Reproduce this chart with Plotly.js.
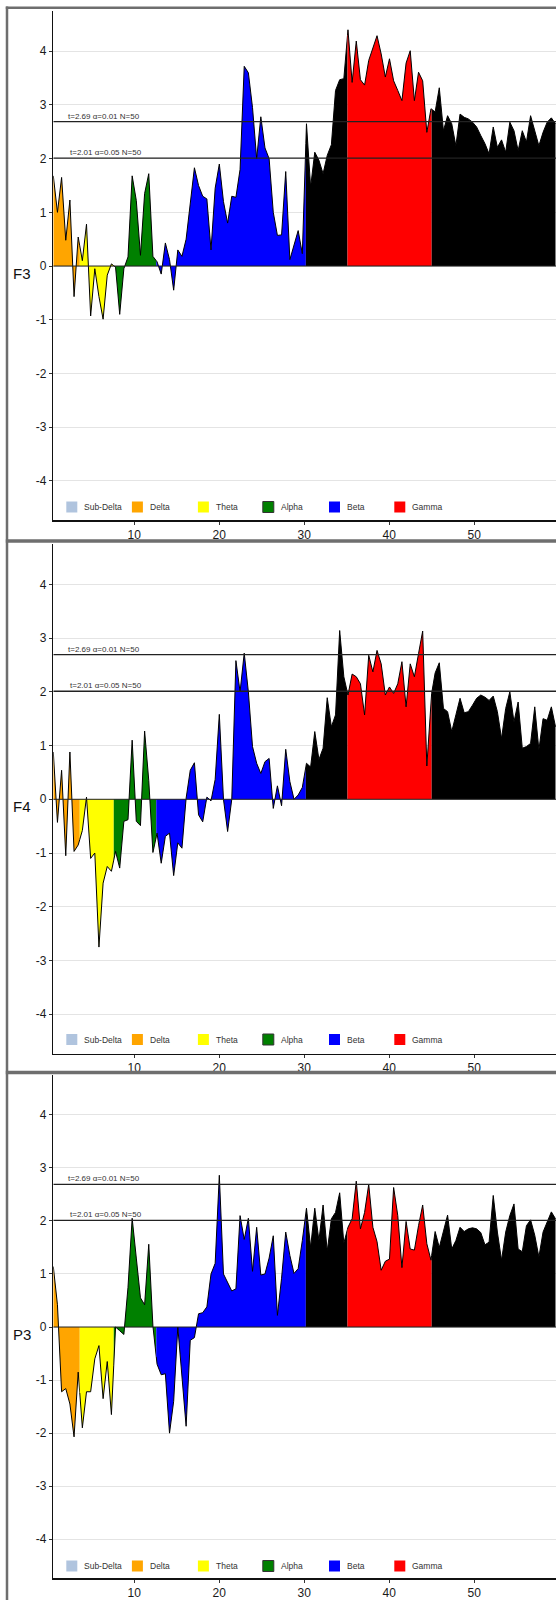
<!DOCTYPE html>
<html><head><meta charset="utf-8">
<script src="https://cdn.plot.ly/plotly-3.0.1.min.js"></script>
<style>html,body{margin:0;padding:0;background:#fff}#chart{width:556px;height:1600px}</style>
</head><body><div id="chart"></div>
<script>
// ---------- data ----------
const FREQ_STEP = 0.48828125; // Hz per spectral bin
const channels = ['F3', 'F4', 'P3'];
const F3 = [1.68,1.0,1.65,0.48,1.23,-0.57,0.54,0.1,0.78,-0.93,
  -0.05,-0.57,-0.99,-0.17,0.04,-0.02,-0.9,-0.05,0.17,1.68,
  1.22,0.2,1.35,1.72,0.18,0.08,-0.15,0.43,0.12,-0.45,
  0.3,0.18,0.5,1.2,1.83,1.5,1.3,1.25,0.3,1.45,
  1.9,1.2,0.8,1.3,1.28,1.8,3.72,3.6,2.95,2.0,
  2.78,2.2,2.0,1.0,0.57,0.58,1.76,0.12,0.4,0.66,
  0.23,2.65,1.47,2.12,1.97,1.72,2.06,2.26,3.27,3.47,
  3.49,4.4,3.42,4.19,3.47,3.37,3.83,4.07,4.29,3.95,
  3.52,3.86,3.45,3.27,3.08,3.78,4.01,3.08,3.61,3.45,
  2.49,2.93,2.87,3.32,2.52,2.8,2.65,2.24,2.83,2.77,
  2.74,2.68,2.59,2.43,2.28,2.09,2.59,2.21,2.35,2.12,
  2.68,2.52,2.15,2.52,2.31,2.8,2.52,2.24,2.49,2.68,
  2.76,2.65];
const F4 = [0.88,-0.43,0.54,-1.05,0.88,-0.97,-0.85,-0.58,0.04,-1.1,
  -1.0,-2.75,-1.56,-1.25,-1.34,-0.97,-1.28,-0.41,-0.38,1.1,
  -0.41,-0.49,1.27,0.35,-0.99,-0.63,-1.19,-0.69,-0.63,-1.42,
  -0.81,-0.91,0.02,0.54,0.68,-0.29,-0.42,0.04,-0.03,0.37,
  1.58,0.0,-0.6,0.0,2.58,2.0,2.72,2.0,0.98,0.67,
  0.48,0.7,0.76,-0.17,0.25,-0.12,0.93,0.33,0.0,0.08,
  0.22,0.67,0.6,1.26,0.74,0.95,1.89,1.35,1.57,3.14,
  2.28,1.94,2.33,2.28,2.15,1.57,2.68,2.37,2.77,2.52,
  1.94,2.09,1.97,2.15,2.56,1.72,2.52,2.28,2.71,3.13,
  0.62,1.9,2.35,2.54,1.69,1.63,1.26,1.57,1.88,1.61,
  1.63,1.75,1.88,1.94,1.9,1.84,1.92,1.63,1.13,1.69,
  2.0,1.44,1.81,0.95,0.98,1.04,1.72,0.92,1.5,1.47,
  1.72,1.35];
const P3 = [1.14,0.42,-1.22,-1.16,-1.45,-2.07,-0.85,-1.9,-1.22,-1.22,
  -0.6,-0.35,-1.35,-0.65,-1.65,0.0,-0.07,-0.14,0.75,2.05,
  1.3,0.55,0.42,1.56,0.02,-0.7,-0.9,-0.88,-2.0,-1.4,
  0.0,-0.9,-1.87,-0.25,-0.2,0.25,0.27,0.38,1.0,1.2,
  2.86,1.0,0.85,0.68,0.72,2.1,1.65,2.05,1.05,1.88,
  0.98,1.0,1.3,1.72,0.22,0.92,1.79,1.35,1.01,1.1,
  1.63,2.24,1.5,2.24,1.63,2.3,1.43,2.04,2.16,2.53,
  1.58,1.88,2.04,2.75,1.85,2.16,2.69,1.88,1.61,1.07,
  1.24,1.28,2.63,2.1,1.12,1.99,1.47,1.45,1.91,2.3,
  1.57,1.26,1.8,1.5,1.79,2.11,1.47,1.63,1.88,1.8,
  1.85,1.87,1.85,1.78,1.55,1.6,2.48,1.79,1.26,1.79,
  2.1,2.32,1.47,1.42,1.91,2.02,1.73,1.32,1.79,2.0,
  2.17,2.04];
const seriesByChannel = [F3, F4, P3];

const bandNames  = ['Sub-Delta', 'Delta', 'Theta', 'Alpha', 'Beta', 'Gamma'];
const bandColors = ['#b0c4de', '#ffa500', '#ffff00', '#008000', '#0000ff', '#ff0000'];
// coloured segments along the frequency axis (Hz)
const segStart = [0, 3.6, 7.6, 12.6, 30.2, 35.1, 45.0];
const segEnd   = [3.6, 7.6, 12.6, 30.2, 35.1, 45.0, 70];
const segFill  = ['#ffa500', '#ffff00', '#008000', '#0000ff', '#000000', '#ff0000', '#000000'];

const tCrit = [2.69, 2.01];
const alphaLevels = ['0.01', '0.05'];
const nSubjects = 50;
const yTicks = [-4, -3, -2, -1, 0, 1, 2, 3, 4];
const xTicks = [10, 20, 30, 40, 50, 60];

// ---------- geometry (pixels) ----------
const W = 556, H = 1600;
const FONT = '"Liberation Sans", Arial, sans-serif';
const plotLeft = 53.3;
const pxPerHz = 8.5;
const panelTop = [11, 544, 1075];
const panelBottom = [520, 1053.5, 1578];
const legendY = [507, 1039.5, 1566];
const yRange = [-4.73, 4.75];
const xMin = FREQ_STEP, xMax = FREQ_STEP + (W - plotLeft) / pxPerHz;
const px = p => p / W;
const py = p => 1 - p / H;
const yToPx = (p, v) => panelTop[p] + (yRange[1] - v) / (yRange[1] - yRange[0]) * (panelBottom[p] - panelTop[p]);

function segmentPoints(fr, vals, a, b) {
  const xs = [], ys = [];
  const interp = t => {
    for (let i = 0; i < fr.length - 1; i++) {
      if (fr[i] <= t && t <= fr[i + 1]) {
        const u = (t - fr[i]) / (fr[i + 1] - fr[i]);
        return vals[i] + u * (vals[i + 1] - vals[i]);
      }
    }
    return null;
  };
  if (a > fr[0]) { const v = interp(a); if (v !== null) { xs.push(a); ys.push(v); } }
  for (let i = 0; i < fr.length; i++) {
    if (fr[i] >= a && fr[i] <= b) { xs.push(fr[i]); ys.push(vals[i]); }
  }
  if (b < fr[fr.length - 1]) { const v = interp(b); if (v !== null) { xs.push(b); ys.push(v); } }
  return {xs, ys};
}

const traces = [], shapes = [], annotations = [];
const layout = {
  width: W, height: H,
  margin: {l: 0, r: 0, t: 0, b: 0, autoexpand: false},
  paper_bgcolor: '#ffffff', plot_bgcolor: '#ffffff',
  showlegend: false,
  font: {family: FONT, size: 12, color: '#1a1a1a'}
};

channels.forEach((ch, p) => {
  const vals = seriesByChannel[p];
  const fr = vals.map((_, i) => (i + 1) * FREQ_STEP);
  const sfx = p === 0 ? '' : String(p + 1);
  const xa = 'x' + sfx, ya = 'y' + sfx;

  layout['xaxis' + sfx] = {
    domain: [px(plotLeft), 1], anchor: ya, range: [xMin, xMax],
    tickmode: 'array', tickvals: xTicks, ticktext: xTicks.map(String),
    ticks: 'outside', ticklen: 3, tickcolor: '#333', tickwidth: 1,
    showline: true, linecolor: '#111', linewidth: 1.5,
    showgrid: false, zeroline: false,
    tickfont: {family: FONT, size: 12, color: '#1a1a1a'}, fixedrange: true
  };
  layout['yaxis' + sfx] = {
    domain: [py(panelBottom[p]), py(panelTop[p])], anchor: xa,
    range: yRange,
    tickmode: 'array', tickvals: yTicks, ticktext: yTicks.map(v => String(v)),
    ticks: 'outside', ticklen: 3, tickcolor: '#333', tickwidth: 1,
    showline: true, linecolor: '#111', linewidth: 1.5,
    showgrid: true, gridcolor: '#e4e4e4', gridwidth: 1, zeroline: false,
    tickfont: {family: FONT, size: 12, color: '#1a1a1a'}, fixedrange: true
  };

  for (let s = 0; s < segStart.length; s++) {
    const {xs, ys} = segmentPoints(fr, vals, segStart[s], segEnd[s]);
    if (xs.length < 2) continue;
    traces.push({
      type: 'scatter', mode: 'lines', x: xs, y: ys, xaxis: xa, yaxis: ya,
      fill: 'tozeroy', fillcolor: segFill[s],
      line: {color: '#000', width: 1}, hoverinfo: 'skip'
    });
  }

  // zero line
  shapes.push({type: 'line', xref: xa, yref: ya, x0: xMin, x1: xMax, y0: 0, y1: 0,
    line: {color: '#222', width: 1}, layer: 'above'});
  // critical t lines and labels
  tCrit.forEach((t, j) => {
    shapes.push({type: 'line', xref: xa, yref: ya, x0: xMin, x1: xMax, y0: t, y1: t,
      line: {color: '#222', width: 1.3}, layer: 'above'});
    annotations.push({xref: xa, yref: ya, x: j === 0 ? 1.98 : 2.25, y: t,
      xanchor: 'left', yanchor: 'bottom', yshift: -1, showarrow: false,
      text: 't=' + t.toFixed(2) + ' \u03b1=' + alphaLevels[j] + ' N=' + nSubjects,
      font: {family: FONT, size: 8, color: '#333'}});
  });
  // channel label
  annotations.push({xref: 'paper', yref: 'paper', x: px(11), y: py(yToPx(p, 0) + 7),
    xanchor: 'left', yanchor: 'middle', showarrow: false, text: ch,
    font: {family: FONT, size: 15, color: '#111'}});

  // legend
  const legBoxX = [66.3, 131.9, 197.9, 262.8, 329, 394.3];
  const legY = legendY[p], box = 11;
  bandNames.forEach((nm, j) => {
    const x0 = legBoxX[j];
    shapes.push({type: 'rect', xref: 'paper', yref: 'paper',
      x0: px(x0), x1: px(x0 + box), y0: py(legY + box / 2), y1: py(legY - box / 2),
      fillcolor: bandColors[j],
      line: {color: nm === 'Alpha' ? '#333' : bandColors[j], width: nm === 'Alpha' ? 1 : 0},
      layer: 'above'});
    annotations.push({xref: 'paper', yref: 'paper', x: px(x0 + 16), y: py(legY),
      xanchor: 'left', yanchor: 'middle', showarrow: false, text: nm,
      font: {family: FONT, size: 8.5, color: '#333'}});
  });
});

// panel borders
const borderCol = '#6e6e6e';
[7.7, 541, 1072.5].forEach((yy, i) => {
  shapes.push({type: 'line', xref: 'paper', yref: 'paper', x0: px(5.8), x1: 1.02,
    y0: py(yy), y1: py(yy), line: {color: borderCol, width: i === 0 ? 2.5 : 3.5}, layer: 'above'});
});
shapes.push({type: 'line', xref: 'paper', yref: 'paper', x0: px(7), x1: px(7),
  y0: py(6.5), y1: py(1602), line: {color: borderCol, width: 2.5}, layer: 'above'});

layout.shapes = shapes;
layout.annotations = annotations;

Plotly.newPlot('chart', traces, layout, {staticPlot: true, displayModeBar: false});
</script>
</body></html>
